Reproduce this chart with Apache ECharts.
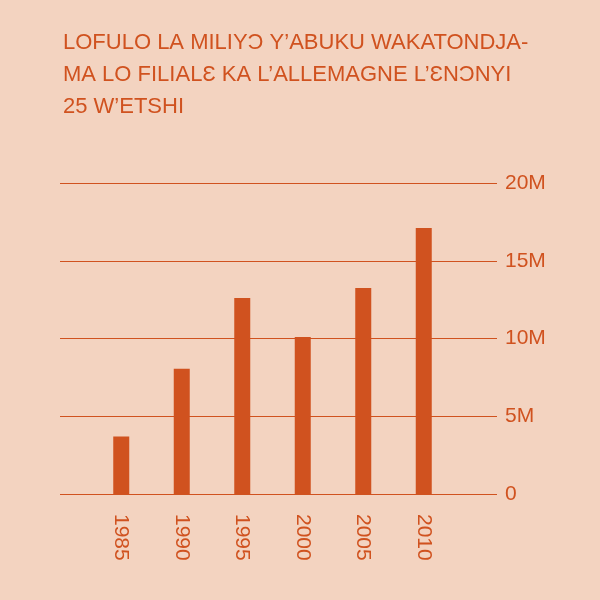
<!DOCTYPE html><html><head><meta charset="utf-8">
<script src="https://cdn.jsdelivr.net/npm/echarts@6/dist/echarts.min.js"></script>
<style>html,body{margin:0;background:#f3d3c0}#c{width:600px;height:600px}</style></head><body><div id="c"></div><script>
const categories=['1985','1990','1995','2000','2005','2010'];
const values=[3.7,8.05,12.6,10.1,13.25,17.1];
const yTicks=[0,5,10,15,20];
const col='#d0521f';
const font="'Liberation Sans','Arial',sans-serif";
const ch=echarts.init(document.getElementById('c'));
ch.setOption({
 backgroundColor:'#f3d3c0',
 title:{text:"LOFULO LA MILIYƆ Y’ABUKU WAKATONDJA-\nMA LO FILIALƐ KA L’ALLEMAGNE L’ƐNƆNYI\n25 W’ETSHI",left:58,top:22,textStyle:{color:col,fontFamily:font,fontWeight:'normal',fontSize:22,lineHeight:32}},
 grid:[{left:60,right:103,top:183,bottom:106},{left:91,right:146,top:183,bottom:106}],
 xAxis:[{gridIndex:0,type:'category',data:categories,show:false},
  {gridIndex:1,type:'category',data:categories,axisLine:{show:false},axisTick:{show:false},
   axisLabel:{rotate:-90,color:col,fontFamily:font,fontSize:21,margin:20}}],
 yAxis:[{gridIndex:0,type:'value',min:0,max:20,interval:5,position:'right',axisLine:{show:false},axisTick:{show:false},
   splitLine:{lineStyle:{color:col,width:1}},
   axisLabel:{color:col,fontFamily:font,fontSize:21,margin:8,formatter:v=>yTicks.includes(v)?(v===0?'0':v+'M'):''}},
  {gridIndex:1,type:'value',min:0,max:20,interval:5,show:false}],
 series:[{type:'bar',xAxisIndex:1,yAxisIndex:1,data:values,barWidth:16,itemStyle:{color:col}}]
});
</script></body></html>
